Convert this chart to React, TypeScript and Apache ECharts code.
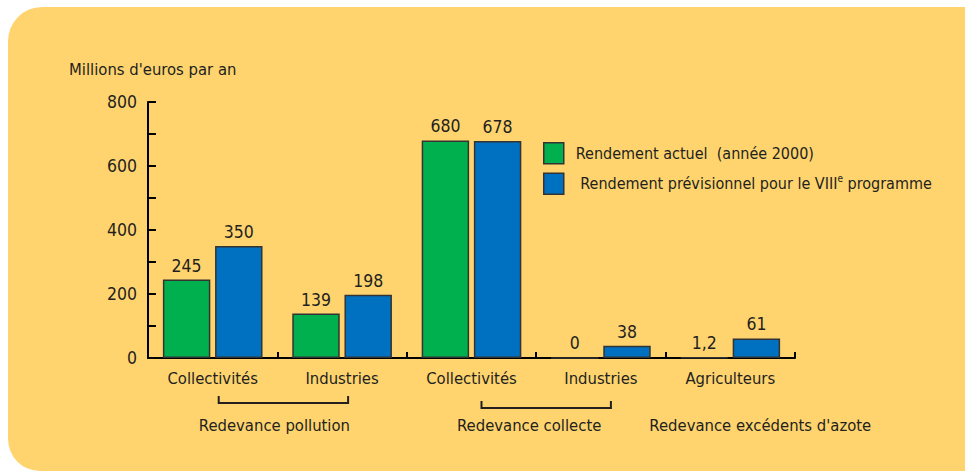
import React, { useEffect, useRef } from "react";
import * as echarts from "echarts";

const categories = ["Collectivités", "Industries", "Collectivités", "Industries", "Agriculteurs"];
const actualValues = [245, 139, 680, 0, 1.2];
const forecastValues = [350, 198, 678, 38, 61];
const seriesNames = ["Rendement actuel  (année 2000)", "Rendement prévisionnel pour le VIIIe programme"];
const yTicks = { min: 0, max: 800, interval: 200 };
const yAxisTitle = "Millions d'euros par an";
const groups = [
  { label: "Redevance pollution", from: 0, to: 1, bracket: true },
  { label: "Redevance collecte", from: 2, to: 3, bracket: true },
  { label: "Redevance excédents d'azote", from: 4, to: 4, bracket: false },
];

const FONT = "'DejaVu Sans Condensed', 'Liberation Sans Narrow', 'Liberation Sans', sans-serif";
const INK = "#231F20";
const BG = "#FFD46E";
const GREEN = "#00B04E";
const BLUE = "#0070C0";
const TXT = 16.5;
const NUM = 17.5;

export default function App() {
  const ref = useRef<HTMLDivElement>(null);
  useEffect(() => {
    document.body.style.margin = "0";
    const chart = echarts.init(ref.current!, undefined, { renderer: "svg" });
    const fmt = (v: number) => String(v).replace(".", ",");
    const option: any = {
      animation: false,
      backgroundColor: "#ffffff",
      textStyle: { fontFamily: FONT, color: INK },
      grid: { left: 148, top: 102, width: 647, height: 256, containLabel: false },
      legend: {
        orient: "vertical",
        left: 543,
        top: 142,
        padding: 0,
        itemWidth: 20,
        itemHeight: 21,
        itemGap: 8,
        icon: "rect",
        itemStyle: { borderColor: "#333", borderWidth: 1.5 },
        textStyle: {
          fontFamily: FONT,
          fontSize: 16,
          color: INK,
          rich: {
            t: { fontFamily: FONT, fontSize: 16, color: INK, lineHeight: 21 },
            p: { fontFamily: FONT, fontSize: 16, color: INK, lineHeight: 21, width: 7 },
            sup: { fontFamily: FONT, fontSize: 10, color: INK, lineHeight: 21, verticalAlign: "top", padding: [0, 0, 8, 0] },
          },
        },
        formatter: (name: string) => {
          if (name === seriesNames[1]) {
            return "{p|}{t| Rendement prévisionnel pour le VIII}{sup|e}{t| programme}";
          }
          return "{p|}{t|" + name + "}";
        },
        data: seriesNames,
      },
      xAxis: {
        type: "category",
        data: categories,
        axisLine: { lineStyle: { color: "#000", width: 2 } },
        axisTick: { show: true, inside: true, length: 6, lineStyle: { color: "#000", width: 2 } },
        axisLabel: { interval: 0, fontFamily: FONT, fontSize: TXT, color: INK, margin: 12 },
        splitLine: { show: false },
      },
      yAxis: {
        type: "value",
        min: yTicks.min,
        max: yTicks.max,
        interval: yTicks.interval,
        axisLine: { show: true, lineStyle: { color: "#000", width: 2 } },
        axisTick: { show: true, inside: true, length: 8, lineStyle: { color: "#000", width: 2 } },
        minorTick: { show: true, splitNumber: 2, length: 8, lineStyle: { color: "#000", width: 2 } },
        axisLabel: { fontFamily: FONT, fontSize: NUM, color: INK, margin: 11 },
        splitLine: { show: false },
        minorSplitLine: { show: false },
      },
      series: [
        {
          name: seriesNames[0],
          type: "bar",
          data: actualValues,
          barGap: "10%",
          barCategoryGap: "23%",
          itemStyle: { color: GREEN, borderColor: "#333", borderWidth: 1.5 },
          label: { show: true, position: "top", distance: 5, fontFamily: FONT, fontSize: NUM, color: INK, formatter: (p: any) => fmt(p.value) },
        },
        {
          name: seriesNames[1],
          type: "bar",
          data: forecastValues,
          barGap: "10%",
          barCategoryGap: "23%",
          itemStyle: { color: BLUE, borderColor: "#333", borderWidth: 1.5 },
          label: { show: true, position: "top", distance: 5, fontFamily: FONT, fontSize: NUM, color: INK, formatter: (p: any) => fmt(p.value) },
        },
      ],
    };
    chart.setOption(option);

    const px = (i: number) => chart.convertToPixel({ xAxisIndex: 0 }, i) as number;
    const elements: any[] = [
      {
        type: "rect",
        z: -10,
        silent: true,
        shape: { x: 8, y: 7, width: 1100, height: 464, r: [34, 0, 0, 32] },
        style: { fill: BG },
      },
      {
        type: "text",
        left: 69,
        top: 61,
        style: { text: yAxisTitle, fontFamily: FONT, fontSize: TXT, fill: INK },
      },
    ];
    groups.forEach((g, k) => {
      const x1 = px(g.from);
      const x2 = px(g.to);
      if (g.bracket) {
        const off = k === 0 ? 6 : 10;
        const y = k === 0 ? 403 : 408;
        elements.push({
          type: "polyline",
          silent: true,
          shape: { points: [[x1 + off, y - 7], [x1 + off, y], [x2 + off, y], [x2 + off, y - 7]] },
          style: { stroke: INK, lineWidth: 2, fill: null },
        });
        elements.push({
          type: "text",
          x: (x1 + x2) / 2 + (k === 0 ? -3 : -7),
          y: 425,
          style: { text: g.label, fontFamily: FONT, fontSize: TXT, fill: INK, align: "center", verticalAlign: "middle" },
        });
      } else {
        elements.push({
          type: "text",
          x: x1 + 30,
          y: 425,
          style: { text: g.label, fontFamily: FONT, fontSize: TXT, fill: INK, align: "center", verticalAlign: "middle" },
        });
      }
    });
    chart.setOption({ graphic: { elements } });
    return () => chart.dispose();
  }, []);
  return <div ref={ref} style={{ width: 965, height: 472 }} />;
}
